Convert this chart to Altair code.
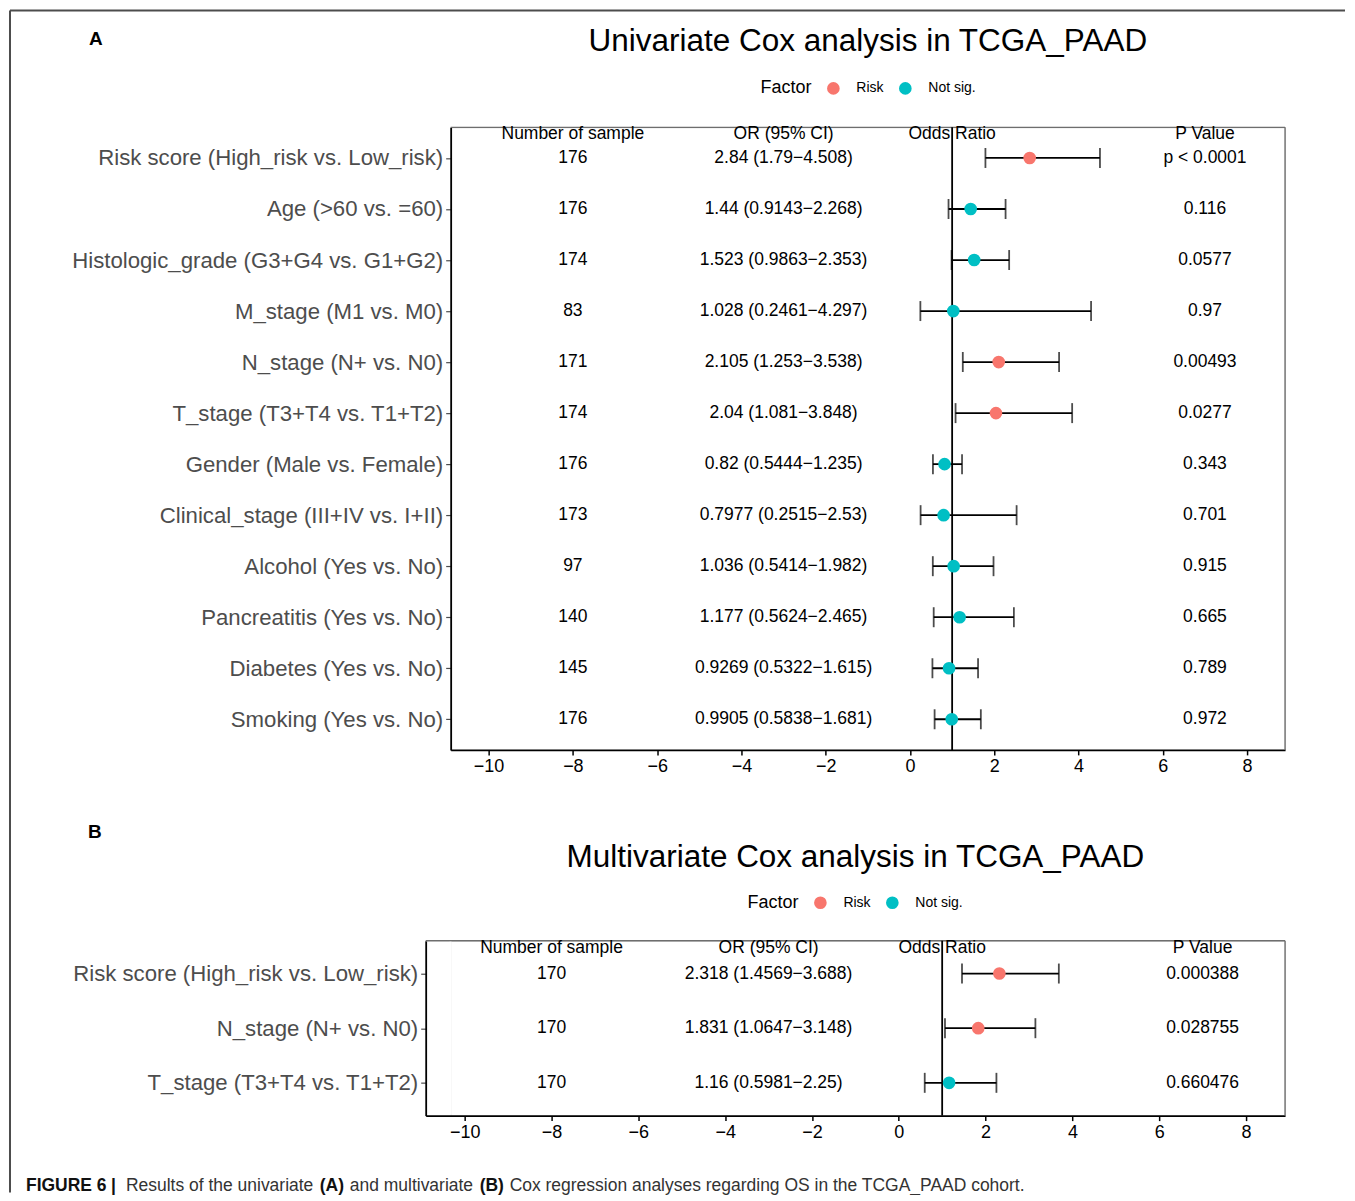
import json
import altair as alt
import pandas as pd

FONT = "Liberation Sans"

# ---------------- Panel A: univariate Cox ----------------
uni_labels = [
    "Risk score (High_risk vs. Low_risk)",
    "Age (>60 vs. =60)",
    "Histologic_grade (G3+G4 vs. G1+G2)",
    "M_stage (M1 vs. M0)",
    "N_stage (N+ vs. N0)",
    "T_stage (T3+T4 vs. T1+T2)",
    "Gender (Male vs. Female)",
    "Clinical_stage (III+IV vs. I+II)",
    "Alcohol (Yes vs. No)",
    "Pancreatitis (Yes vs. No)",
    "Diabetes (Yes vs. No)",
    "Smoking (Yes vs. No)",
]
uni_n = [176, 176, 174, 83, 171, 174, 176, 173, 97, 140, 145, 176]
uni_or = [2.84, 1.44, 1.523, 1.028, 2.105, 2.04, 0.82, 0.7977, 1.036, 1.177, 0.9269, 0.9905]
uni_low = [1.79, 0.9143, 0.9863, 0.2461, 1.253, 1.081, 0.5444, 0.2515, 0.5414, 0.5624, 0.5322, 0.5838]
uni_high = [4.508, 2.268, 2.353, 4.297, 3.538, 3.848, 1.235, 2.53, 1.982, 2.465, 1.615, 1.681]
uni_p = ["p < 0.0001", "0.116", "0.0577", "0.97", "0.00493", "0.0277",
         "0.343", "0.701", "0.915", "0.665", "0.789", "0.972"]
uni_factor = ["Risk", "Not sig.", "Not sig.", "Not sig.", "Risk", "Risk",
              "Not sig.", "Not sig.", "Not sig.", "Not sig.", "Not sig.", "Not sig."]

# ---------------- Panel B: multivariate Cox ----------------
multi_labels = [
    "Risk score (High_risk vs. Low_risk)",
    "N_stage (N+ vs. N0)",
    "T_stage (T3+T4 vs. T1+T2)",
]
multi_n = [170, 170, 170]
multi_or = [2.318, 1.831, 1.16]
multi_low = [1.4569, 1.0647, 0.5981]
multi_high = [3.688, 3.148, 2.25]
multi_p = ["0.000388", "0.028755", "0.660476"]
multi_factor = ["Risk", "Risk", "Not sig."]

# ---------------- shared ----------------
header_texts = ["Number of sample", "OR (95% CI)", "Odds Ratio", "P Value"]
column_x = [-8, -3, 1, 7]
factor_levels = ["Risk", "Not sig."]
factor_colors = ["#F8766D", "#00BFC4"]
x_ticks = [-10, -8, -6, -4, -2, 0, 2, 4, 6, 8]
x_domain = [-10.9, 8.9]
ref_line = [1]

caption_parts = [
    ("FIGURE 6", "bold"), ("|", "bold"), ("Results of the univariate", "normal"),
    ("(A)", "bold"), ("and multivariate", "normal"), ("(B)", "bold"),
    ("Cox regression analyses regarding OS in the TCGA_PAAD cohort.", "normal"),
]
caption_x = [25, 110, 125, 319, 349, 479, 509]  # absolute page x of each piece

FRAME_COLOR = "#4D4D4D"
BORDER_COLOR = "#6E6E6E"
PLOT_LEFT_ABS = 450  # both panels share the same plot origin in the layout
A_TOP_ABS = 126
B_TOP_ABS = 940


def single_text(text, x, y, size, weight="normal", color="black", align="center",
                baseline="middle"):
    return alt.Chart(pd.DataFrame({"t": [text]})).mark_text(
        font=FONT, fontSize=size, fontWeight=weight, color=color,
        align=align, baseline=baseline).encode(
        x=alt.value(x), y=alt.value(y), text="t:N")


def hrule(x1, x2, y, color, width):
    return alt.Chart(pd.DataFrame({"f": [0]})).mark_rule(
        color=color, strokeWidth=width).encode(
        x=alt.value(x1), x2=alt.value(x2), y=alt.value(y))


def vrule(x, y1, y2, color, width):
    return alt.Chart(pd.DataFrame({"f": [0]})).mark_rule(
        color=color, strokeWidth=width).encode(
        x=alt.value(x), y=alt.value(y1), y2=alt.value(y2))


def panel(labels, n, orv, low, high, pvals, factor, title, width, height, left_ext,
          letter, letter_xy, legend_xy, title_xy, frame=None, caption=None):
    k = len(labels)
    rows = [k - i for i in range(k)]
    df = pd.DataFrame({"row": rows, "label": labels, "or": orv,
                       "low": low, "high": high, "factor": factor})
    ci = [f"{o} ({l}\u2212{h})" for o, l, h in zip(orv, low, high)]
    recs = []
    for r, nn, c, p in zip(rows, n, ci, pvals):
        recs.append({"row": r, "x": column_x[0], "text": str(nn)})
        recs.append({"row": r, "x": column_x[1], "text": c})
        recs.append({"row": r, "x": column_x[3], "text": p})
    for hx, ht in zip(column_x, header_texts):
        recs.append({"row": k + 0.46, "x": hx, "text": ht})
    txt_df = pd.DataFrame(recs)

    xs = alt.Scale(domain=x_domain, nice=False, zero=False, range=[-left_ext, width])
    ys = alt.Scale(domain=[0.4, k + 0.6], nice=False, zero=False)
    xax = alt.Axis(values=x_ticks, title=None, grid=False, labelFontSize=18,
                   labelColor="black", labelFont=FONT, tickColor="black", tickSize=5,
                   tickWidth=1.5, domainColor="black", domainWidth=1.8, labelPadding=3)
    yax = alt.Axis(values=rows, title=None, grid=False, offset=left_ext,
                   labelExpr=f"{json.dumps(labels)}[{k} - datum.value]",
                   labelFontSize=22.2, labelColor="#4D4D4D", labelFont=FONT,
                   tickColor="#4D4D4D", tickSize=5, tickWidth=1.2,
                   domainColor="black", domainWidth=1.8, labelPadding=3, labelLimit=600)

    def X(f):
        return alt.X(f, scale=xs, axis=xax)

    Y = alt.Y("row:Q", scale=ys, axis=yax)

    base = alt.Chart(df)
    vline = alt.Chart(pd.DataFrame({"x": ref_line})).mark_rule(
        color="black", strokeWidth=1.8).encode(x=X("x:Q"))
    whisker = base.mark_rule(color="black", strokeWidth=1.8).encode(
        x=X("low:Q"), x2="high:Q", y=Y)
    caps = base.transform_fold(["low", "high"], as_=["end", "xv"]).mark_tick(
        orient="vertical", size=20, thickness=1.8, color="black").encode(
        x=X("xv:Q"), y=Y)
    points = base.mark_circle(size=160, opacity=1).encode(
        x=X("or:Q"), y=Y,
        color=alt.Color("factor:N",
                        scale=alt.Scale(domain=factor_levels, range=factor_colors),
                        legend=alt.Legend(
                            title="Factor", orient="none",
                            legendX=legend_xy[0], legendY=legend_xy[1],
                            direction="horizontal", titleOrient="left",
                            titleFont=FONT, titleFontSize=18, titleFontWeight="normal",
                            titleColor="black", titlePadding=14, titleBaseline="middle",
                            labelFont=FONT, labelFontSize=14, labelColor="black",
                            labelOffset=16, symbolSize=160, symbolType="circle",
                            symbolStrokeWidth=0, columnPadding=14)))
    texts = alt.Chart(txt_df).mark_text(
        font=FONT, fontSize=17.5, color="black", align="center", baseline="middle").encode(
        x=X("x:Q"), y=Y, text="text:N")

    layers = []
    if frame is not None:
        fx = 9 - PLOT_LEFT_ABS
        layers.append(vrule(fx, frame[0], frame[1], FRAME_COLOR, 2))
        layers.append(hrule(fx, 1345 - PLOT_LEFT_ABS, frame[0], FRAME_COLOR, 2))
    # panel border (top and right); left and bottom are the axis lines
    layers.append(hrule(-left_ext, width, 0, BORDER_COLOR, 1.4))
    layers.append(vrule(width, 0, height, BORDER_COLOR, 1.4))
    layers += [vline, whisker, caps, points, texts]
    layers.append(single_text(letter, letter_xy[0], letter_xy[1], 19, weight="bold"))
    layers.append(single_text(title, title_xy[0], title_xy[1], 31.5, baseline="alphabetic"))

    if caption is not None:
        for (txt, w), px in zip(caption, caption_x):
            col = "#111111" if w == "bold" else "#333333"
            layers.append(single_text(txt, px - PLOT_LEFT_ABS, 245, 17.5, weight=w,
                                      color=col, align="left"))
    if left_ext > 0:
        layers.append(vrule(0, 1, height - 1, "white", 2))

    return alt.layer(*layers).properties(width=width, height=height)


chart_a = panel(uni_labels, uni_n, uni_or, uni_low, uni_high, uni_p, uni_factor,
                "Univariate Cox analysis in TCGA_PAAD", 835, 623, 0,
                "A", (95 - PLOT_LEFT_ABS, -88), (310, -46), (835 / 2, -76),
                frame=(9 - A_TOP_ABS, 1192 - A_TOP_ABS))
chart_b = panel(multi_labels, multi_n, multi_or, multi_low, multi_high, multi_p, multi_factor,
                "Multivariate Cox analysis in TCGA_PAAD", 835, 175, 25,
                "B", (94 - PLOT_LEFT_ABS, -109), (747 - PLOT_LEFT_ABS, -45),
                (855 - PLOT_LEFT_ABS, -74), caption=caption_parts)

chart = alt.vconcat(chart_a, chart_b, spacing=B_TOP_ABS - A_TOP_ABS - 623,
                    bounds="flush").resolve_scale(
    color="independent", x="independent", y="independent").resolve_legend(
    color="independent").properties(padding=0).configure_view(
    stroke="transparent", strokeWidth=0).configure(font=FONT)

chart.save("out.html", embed_options={"renderer": "svg", "actions": False})
